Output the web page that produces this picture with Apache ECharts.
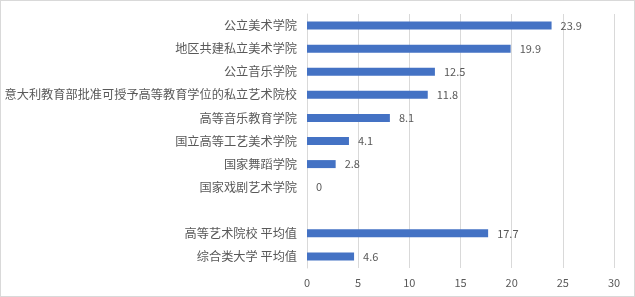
<!DOCTYPE html>
<html><head><meta charset="utf-8">
<script src="https://cdn.jsdelivr.net/npm/echarts@6/dist/echarts.min.js"></script>
<style>html,body{margin:0;padding:0;background:#fff}#c{width:635px;height:297px;box-sizing:border-box;border:1px solid #d9d9d9}</style>
</head><body><div id="c"></div>
<script>
const categories = ['公立美术学院','地区共建私立美术学院','公立音乐学院','意大利教育部批准可授予高等教育学位的私立艺术院校','高等音乐教育学院','国立高等工艺美术学院','国家舞蹈学院','国家戏剧艺术学院','','高等艺术院校 平均值','综合类大学 平均值'];
const values = [23.9,19.9,12.5,11.8,8.1,4.1,2.8,0,null,17.7,4.6];
const xTicks = {min:0,max:30,interval:5};
const font = '"Noto Sans CJK SC", sans-serif';
const chart = echarts.init(document.getElementById('c'), null, {renderer:'canvas'});
chart.setOption({
  animation:false,
  grid:{left:306,right:20,top:13,bottom:28,containLabel:false,outerBoundsMode:'none'},
  xAxis:{type:'value',min:xTicks.min,max:xTicks.max,interval:xTicks.interval,
    axisLine:{show:false},axisTick:{show:false},
    splitLine:{lineStyle:{color:'#d9d9d9',width:1}},
    axisLabel:{color:'#595959',fontSize:11,fontFamily:font,margin:9}},
  yAxis:{type:'category',data:categories,inverse:true,
    axisLine:{show:true,lineStyle:{color:'#d9d9d9'}},axisTick:{show:false},
    axisLabel:{color:'#595959',fontSize:12.2,fontFamily:font,margin:10}},
  series:[{type:'bar',data:values,barWidth:8,itemStyle:{color:'#4472c4'},
    label:{show:true,position:'right',distance:9,color:'#595959',fontSize:11,fontFamily:font,
      formatter:p=>p.value==null?'':String(p.value)}}]
});
</script></body></html>
